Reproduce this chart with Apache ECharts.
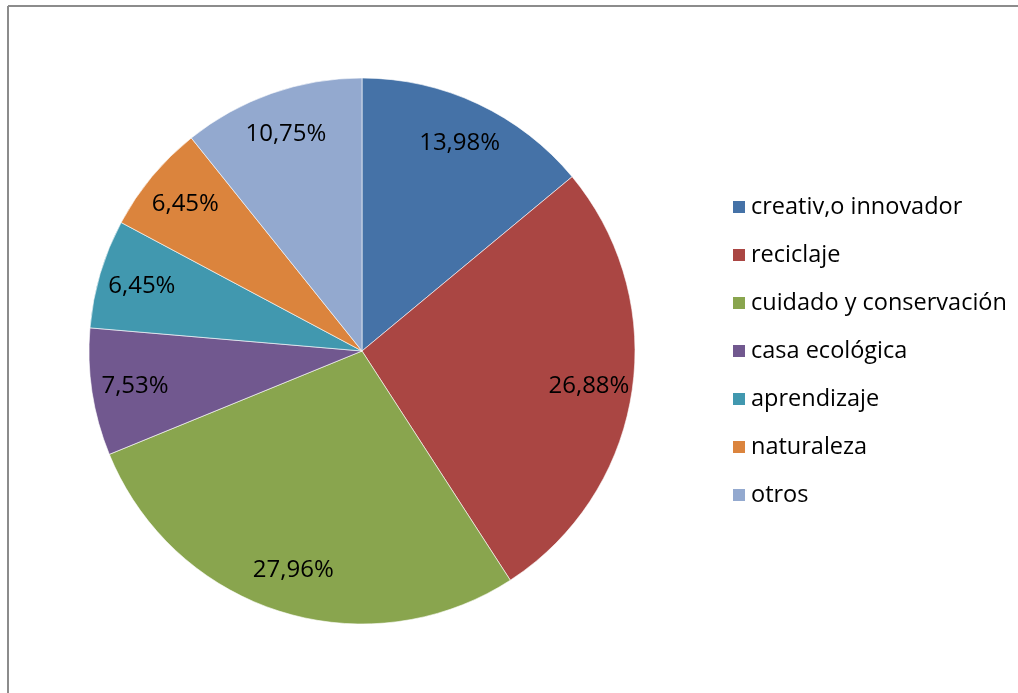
<!DOCTYPE html>
<html><head><meta charset="utf-8">
<script src="https://cdn.jsdelivr.net/npm/echarts@6/dist/echarts.min.js"></script>
<style>html,body{margin:0;padding:0;background:#fff}#c{width:1018px;height:693px}</style>
</head><body><div id="c"></div>
<script>
const categories = ['creativ,o innovador','reciclaje','cuidado y conservación','casa ecológica','aprendizaje','naturaleza','otros'];
const values = [13.98, 26.88, 27.96, 7.53, 6.45, 6.45, 10.75];
const colors = ['#4572A7','#AA4643','#89A54E','#71588F','#4198AF','#DB843D','#93A9CF'];
const FONT = '"Open Sans", "Noto Sans", sans-serif';
const data = categories.map((n,i)=>({name:n,value:values[i]}));
const chart = echarts.init(document.getElementById('c'), null, {renderer:'canvas'});
const R = 273, C = [362, 351];
chart.setOption({
  animation:false,
  color: colors,
  graphic:[
    {type:'line', shape:{x1:8,y1:6,x2:1018,y2:6}, style:{stroke:'#8c8c8c',lineWidth:2}},
    {type:'line', shape:{x1:8,y1:6,x2:8,y2:693}, style:{stroke:'#8c8c8c',lineWidth:2}}
  ],
  legend:{
    orient:'vertical', left:726, top:190, itemWidth:14, itemHeight:14, itemGap:24,
    icon:'rect', data:categories,
    textStyle:{fontFamily:FONT, fontSize:23.5, color:'#000', lineHeight:24}
  },
  series:[
    {type:'pie', center:C, radius:[0,R], startAngle:90, clockwise:true,
     data:data, label:{show:false}, labelLine:{show:false},
     itemStyle:{borderColor:'#fff', borderWidth:0.6}, emphasis:{disabled:true}},
    {type:'pie', center:C, radius:[R*0.66,R], startAngle:90, clockwise:true, silent:true,
     data:data, itemStyle:{color:'rgba(0,0,0,0)'}, labelLine:{show:false}, emphasis:{disabled:true},
     label:{show:true, position:'inside', fontFamily:FONT, fontSize:24, color:'#000',
       formatter:p=>p.value.toFixed(2).replace('.',',')+'%'}}
  ]
});
</script></body></html>
